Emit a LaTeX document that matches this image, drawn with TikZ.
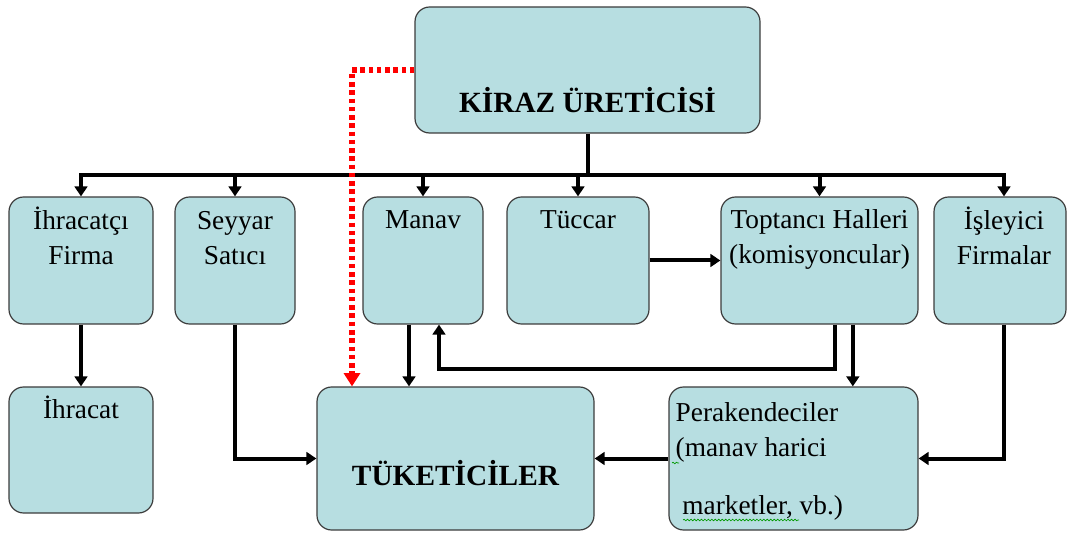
\documentclass[tikz,border=0pt]{standalone}
\usepackage{fontspec}
\setmainfont{Liberation Serif}
\usetikzlibrary{positioning,arrows.meta,decorations.pathmorphing}
\definecolor{kutumavi}{RGB}{183,222,225}
\definecolor{kenar}{RGB}{60,60,60}
\tikzset{
    kutu/.style={draw=kenar, fill=kutumavi, rounded corners=11pt, line width=0.9pt, inner sep=0pt},
    ust/.style={kutu, minimum height=95.25pt},
    yazi/.style={font=\fontsize{20.5}{26.5}\selectfont, align=center, inner sep=0pt},
    baslik/.style={font=\fontsize{22}{26}\selectfont\bfseries, inner sep=0pt, anchor=base},
    ok/.style={line width=3pt, -{Triangle[length=7.5pt,width=9.5pt]}},
    nokta/.style={red, line width=4pt, dash pattern=on 3.4pt off 2.8pt, -{Triangle[length=10pt,width=12pt]}},
    yesil/.style={green!60!black, line width=0.5pt, decorate, decoration={snake, amplitude=0.6pt, segment length=2.6pt}},
}
\begin{document}
\begin{tikzpicture}[x=0.75pt, y=-0.75pt]
    \useasboundingbox (0,0) rectangle (1067,534);
    % kutular
    \node[kutu, minimum width=258.75pt, minimum height=94.5pt] (kir) at (587.5,70) {};
    \node[ust, minimum width=108pt] (ihf) at (81,260.5) {};
    \node[ust, minimum width=90pt] (sey) at (235,260.5) {};
    \node[ust, minimum width=90pt] (man) at (423,260.5) {};
    \node[ust, minimum width=106.5pt] (tuc) at (578,260.5) {};
    \node[ust, minimum width=147.75pt] (top) at (819.5,260.5) {};
    \node[ust, minimum width=99pt] (isl) at (1000,260.5) {};
    \node[kutu, minimum width=108pt, minimum height=94.5pt] (ihr) at (81,450) {};
    \node[kutu, minimum width=207.75pt, minimum height=107.25pt] (tuk) at (455.5,458.5) {};
    \node[kutu, minimum width=186.75pt, minimum height=107.25pt] (per) at (793.5,458.5) {};
    % yazilar
    \node[baslik] (kiry) at (587.5,113) {KİRAZ ÜRETİCİSİ};
    \node[baslik] (tuky) at (455.5,485) {TÜKETİCİLER};
    \node[yazi, below=6pt of ihf.north] (ihfy) {\strut İhracatçı\\Firma};
    \node[yazi, below=6pt of sey.north] (seyy) {\strut Seyyar\\Satıcı};
    \node[yazi, below=5.2pt of man.north] (many) {\strut Manav};
    \node[yazi, below=5.2pt of tuc.north] (tucy) {\strut Tüccar};
    \node[yazi, below=5.2pt of top.north] (topy) {\strut Toptancı Halleri\\(komisyoncular)};
    \node[yazi, below=6pt of isl.north, xshift=3pt] (isly) {\strut İşleyici\\Firmalar};
    \node[yazi, below=5.5pt of ihr.north] (ihry) {\strut İhracat};
    \node[yazi, align=left, below right=7.5pt and 5.3pt of per.north west] (pery)
        {\strut Perakendeciler\\(manav harici\\[17pt]\hspace*{5pt}marketler, vb.)};
    \draw[yesil] (683,520) -- (799,520);
    \draw[yesil] (672,463) -- (679,463);
    % baglantilar
    \coordinate (bus) at (587.5,175);
    \coordinate (don) at (439,369);
    \coordinate (kose) at (352,70);
    \draw[line width=3pt] (kir.south) -- (bus);
    \draw[line width=3pt, {Triangle[length=7.5pt,width=9.5pt]}-{Triangle[length=7.5pt,width=9.5pt]}]
        (ihf.north) -- (ihf.north |- bus) -- ([xshift=3pt]isl.north |- bus) -- ([xshift=3pt]isl.north);
    \foreach \k in {sey,man,tuc,top}
        \draw[ok] (\k.north |- bus) -- (\k.north);
    \draw[ok] (ihf.south) -- (ihr.north);
    \draw[ok] (sey.south) |- (tuk.west);
    \draw[ok] ([xshift=-10.5pt]man.south) -- ([xshift=-10.5pt]man.south |- tuk.north);
    \draw[ok] ([xshift=11.5pt]top.south) |- (don) -- (don |- man.south);
    \draw[ok] ([xshift=25pt]top.south) -- ([xshift=25pt]top.south |- per.north);
    \draw[ok] ([xshift=3pt]isl.south) |- (per.east);
    \draw[ok] (per.west) -- (tuk.east);
    \draw[ok] (tuc.east) -- (top.west);
    \draw[nokta] (kir.west) -- (kose) -- (kose |- tuk.north);
\end{tikzpicture}
\end{document}
